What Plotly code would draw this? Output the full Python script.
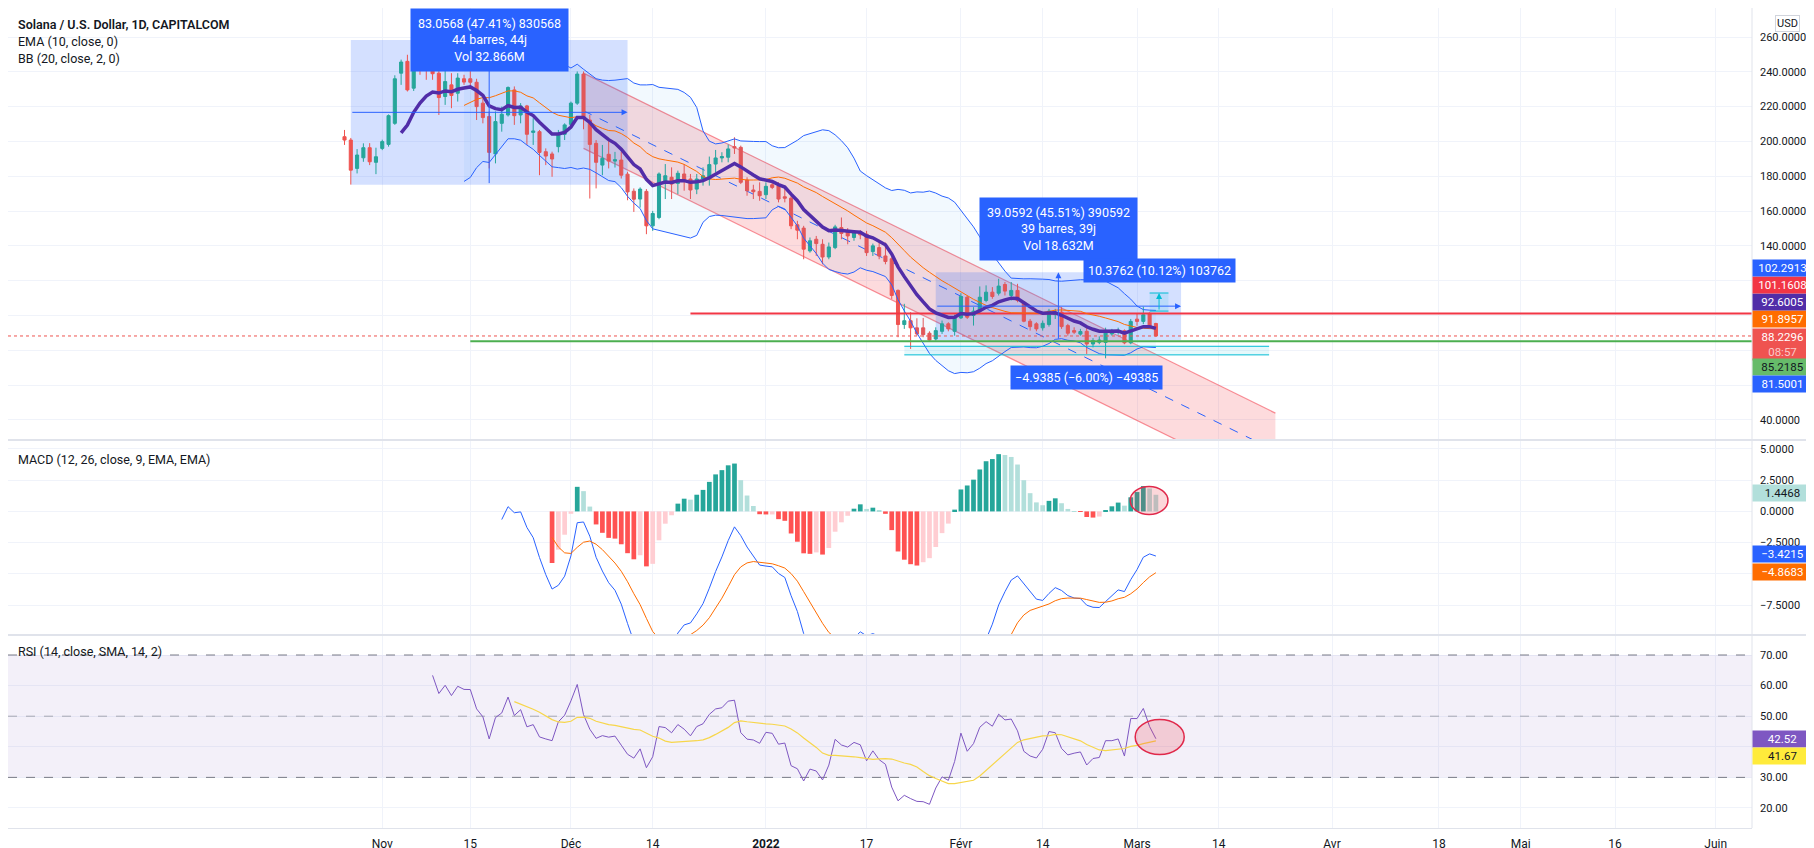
import numpy as np
import pandas as pd
import plotly.graph_objects as go
from plotly.subplots import make_subplots

# ---------------- data ----------------
first_day = "2021-10-26"
opens = [202.7, 200.8, 184.5, 190.6, 196.4, 188.0, 196.0, 198.3, 210.4, 239.2,
         246.0, 230.6, 250.2, 245.6, 244.4, 239.2, 225.8, 232.5, 227.7, 236.0,
         236.0, 234.0, 222.0, 214.3, 192.8, 210.4, 215.2, 229.6, 215.2, 220.4,
         205.2, 205.6, 194.1, 192.8, 197.0, 204.1, 209.8, 222.0, 238.7, 212.3,
         198.9, 186.4, 192.6, 188.7, 189.3, 181.2, 171.4, 166.9, 171.3, 151.5,
         156.3, 177.1, 179.4, 175.9, 181.3, 178.4, 172.6, 178.4, 178.4, 187.0,
         190.5, 190.9, 197.0, 196.6, 177.8, 172.1, 171.3, 169.4, 175.1, 174.6,
         168.2, 167.4, 152.1, 150.2, 137.1, 143.8, 140.9, 133.6, 139.0, 150.5,
         148.2, 144.8, 147.1, 146.7, 136.7, 139.0, 134.2, 132.6, 114.4, 94.8,
         97.0, 92.9, 92.9, 89.8, 86.5, 90.9, 95.2, 90.9, 98.6, 110.5,
         100.0, 102.5, 108.6, 113.4, 112.8, 117.8, 111.5, 114.4, 107.6, 96.7,
         95.2, 92.9, 94.8, 100.5, 101.9, 94.2, 91.3, 89.3, 90.9, 83.6,
         84.6, 84.5, 89.4, 90.3, 91.2, 84.3, 97.9, 96.6, 101.2, 95.4]
highs = [206.6, 202.0, 195.6, 198.9, 199.0, 196.4, 201.0, 215.5, 238.0, 247.0,
         249.8, 252.0, 258.2, 249.8, 248.0, 243.0, 243.0, 239.2, 239.2, 238.3,
         243.0, 236.0, 224.8, 217.2, 217.2, 220.0, 231.6, 231.6, 222.0, 221.0,
         213.3, 206.6, 196.0, 194.1, 206.6, 210.4, 222.9, 240.2, 240.2, 215.2,
         200.8, 198.0, 200.8, 194.0, 194.1, 182.6, 173.0, 173.6, 172.6, 160.1,
         182.2, 187.0, 185.1, 183.2, 187.0, 181.3, 181.3, 185.1, 191.3, 195.1,
         193.8, 198.2, 202.4, 197.6, 179.4, 175.1, 176.5, 176.5, 177.1, 176.5,
         173.6, 168.8, 154.4, 151.5, 144.8, 145.7, 143.8, 141.9, 152.1, 156.3,
         150.2, 149.0, 149.0, 148.6, 141.3, 142.9, 141.9, 133.5, 115.0, 106.7,
         101.9, 98.4, 98.6, 90.9, 93.2, 97.1, 96.1, 100.5, 112.8, 111.5,
         104.8, 116.7, 117.3, 116.3, 121.1, 119.2, 119.2, 118.2, 108.2, 98.0,
         96.1, 97.1, 103.8, 103.8, 104.8, 95.2, 93.2, 92.3, 94.5, 87.0,
         88.0, 93.0, 92.3, 93.0, 92.0, 98.0, 101.2, 105.0, 101.8, 95.8]
lows = [198.0, 175.2, 181.6, 188.3, 186.4, 181.2, 195.0, 197.0, 209.5, 232.5,
        228.7, 229.0, 238.3, 235.4, 235.4, 215.2, 221.0, 219.1, 222.9, 232.5,
        231.5, 212.3, 210.4, 184.5, 187.4, 205.6, 214.3, 209.5, 210.4, 198.0,
        198.0, 180.6, 186.4, 179.7, 193.7, 200.8, 207.5, 221.0, 207.0, 167.2,
        173.0, 180.6, 184.5, 185.0, 178.7, 166.2, 159.5, 162.0, 146.7, 148.6,
        155.3, 166.9, 166.9, 169.7, 171.7, 166.9, 169.7, 174.6, 174.6, 182.2,
        188.0, 188.0, 192.8, 175.5, 168.8, 166.9, 165.9, 166.9, 172.6, 165.0,
        165.0, 149.6, 143.8, 132.3, 136.1, 134.2, 129.4, 132.3, 138.1, 143.8,
        140.9, 142.9, 143.8, 134.2, 134.2, 132.3, 129.4, 109.5, 87.5, 92.3,
        80.8, 88.4, 87.5, 85.6, 85.6, 89.4, 90.9, 88.4, 98.0, 98.0,
        94.2, 101.3, 107.6, 109.6, 111.5, 111.5, 108.6, 107.6, 96.1, 91.3,
        90.9, 91.3, 93.6, 98.0, 92.3, 88.4, 89.4, 88.4, 77.9, 81.7,
        83.5, 75.4, 88.4, 89.0, 83.5, 83.5, 94.1, 95.0, 93.1, 87.8]
closes = [200.8, 183.5, 192.2, 196.4, 188.3, 191.2, 199.9, 214.8, 236.0, 245.6,
          229.6, 249.8, 246.0, 244.0, 238.9, 225.2, 234.4, 226.4, 236.4, 234.1,
          234.0, 220.0, 213.7, 193.7, 211.4, 215.6, 231.0, 214.8, 220.4, 204.1,
          206.0, 193.7, 191.6, 189.9, 204.1, 209.5, 222.0, 238.7, 213.3, 198.3,
          188.0, 190.3, 188.7, 189.5, 180.6, 171.0, 166.8, 172.6, 151.5, 158.6,
          181.3, 180.3, 175.5, 181.7, 177.8, 172.1, 178.4, 180.3, 186.7, 190.5,
          191.3, 195.7, 196.3, 176.5, 171.7, 171.1, 168.8, 174.2, 173.6, 166.9,
          167.4, 151.5, 149.0, 138.1, 142.9, 141.3, 133.6, 139.4, 150.9, 147.1,
          145.7, 147.7, 146.3, 136.1, 140.0, 134.2, 131.0, 111.5, 94.8, 97.0,
          92.9, 89.4, 89.0, 85.9, 91.3, 95.2, 92.3, 99.0, 110.9, 99.0,
          102.5, 110.5, 113.4, 110.9, 116.9, 114.0, 114.4, 108.6, 96.7, 93.6,
          92.3, 95.5, 102.5, 101.9, 93.6, 89.8, 90.4, 90.8, 83.6, 85.6,
          85.9, 91.0, 91.0, 91.5, 84.3, 96.6, 96.6, 100.4, 93.5, 88.2296]

# last values shown in the right-hand scale labels
price_labels = [("102.2913", "#2962FF", "#FFFFFF"), ("101.1608", "#F23645", "#FFFFFF"),
                ("92.6005", "#512DA8", "#FFFFFF"), ("91.8957", "#FF6D00", "#FFFFFF"),
                ("85.2185", "#66BB6A", "#131722"), ("81.5001", "#2962FF", "#FFFFFF")]
current_price = "88.2296"
countdown = "08:57"
macd_labels = [("1.4468", "#B2DFDB", "#131722"), ("−3.4215", "#2962FF", "#FFFFFF"),
               ("−4.8683", "#FF6D00", "#FFFFFF")]
rsi_labels = [("42.52", "#7E57C2", "#FFFFFF"), ("41.67", "#FFEB3B", "#131722")]

# drawings (dates / prices)
box1_dates = ["2021-10-27", "2021-12-10"]
box1_prices = [175.18, 258.24]
box1_text = ["83.0568 (47.41%) 830568", "44 barres, 44j", "Vol 32.866M"]
box2_dates = ["2022-01-28", "2022-03-08"]
box2_prices = [85.83, 124.89]
box2_text = ["39.0592 (45.51%) 390592", "39 barres, 39j", "Vol 18.632M"]
box3_dates = ["2022-03-03", "2022-03-06"]
box3_prices = [102.53, 112.91]
box3_text = "10.3762 (10.12%) 103762"
box4_dates = ["2022-01-23", "2022-03-22"]
box4_prices = [82.31, 77.37]
box4_text = "−4.9385 (−6.00%) −49385"
channel_dates = ["2021-12-03", "2022-03-23"]
channel_upper = [239.25, 43.9]
channel_lower = [196.0, 0.6]
red_level = 101.1608
red_level_start = "2021-12-20"
green_level = 85.2185
green_level_start = "2021-11-15"
macd_circle_dates = ["2022-02-27 22:00", "2022-03-05 22:00"]
macd_circle_vals = [-0.24, 2.0]
rsi_circle_dates = ["2022-02-28 17:00", "2022-03-08 12:00"]
rsi_circle_vals = [37.5, 48.9]

tick_dates = ["2021-11-01", "2021-11-15", "2021-12-01", "2021-12-14", "2022-01-01",
              "2022-01-17", "2022-02-01", "2022-02-14", "2022-03-01", "2022-03-14",
              "2022-04-01", "2022-04-18", "2022-05-01", "2022-05-16", "2022-06-01"]
tick_labels = ["Nov", "15", "Déc", "14", "<b>2022</b>", "17", "Févr", "14", "Mars", "14",
               "Avr", "18", "Mai", "16", "Juin"]
price_ticks = [40, 60, 80, 100, 120, 140, 160, 180, 200, 220, 240, 260]
price_hidden = [60, 80, 100, 120]
macd_ticks = [-7.5, -5.0, -2.5, 0.0, 2.5, 5.0]
macd_hidden = [-5.0]
rsi_ticks = [20, 30, 40, 50, 60, 70]
rsi_hidden = [40]

# ---------------- indicators ----------------
dates = pd.date_range(first_day, periods=len(closes), freq="D")
c = np.asarray(closes, float)


def ema(src, n):
    src = np.asarray(src, float)
    out = np.full(len(src), np.nan)
    idx = np.where(~np.isnan(src))[0]
    s0 = idx[0] + n - 1
    out[s0] = np.mean(src[idx[0]:s0 + 1])
    a = 2.0 / (n + 1)
    for k in range(s0 + 1, len(src)):
        out[k] = a * src[k] + (1 - a) * out[k - 1]
    return out


def rma(src, n, start):
    out = np.full(len(src), np.nan)
    s0 = start + n - 1
    out[s0] = np.mean(src[start:s0 + 1])
    for k in range(s0 + 1, len(src)):
        out[k] = (src[k] + (n - 1) * out[k - 1]) / n
    return out


ema10 = ema(c, 10)
basis = pd.Series(c).rolling(20).mean().values
dev = pd.Series(c).rolling(20).std(ddof=0).values
bb_up = basis + 2 * dev
bb_lo = basis - 2 * dev

macd = ema(c, 12) - ema(c, 26)
signal = ema(macd, 9)
hist = macd - signal
hist_colors = []
for k in range(len(hist)):
    h = hist[k]
    p = hist[k - 1] if k > 0 else np.nan
    if np.isnan(h):
        hist_colors.append("rgba(0,0,0,0)")
    elif h >= 0:
        hist_colors.append("#26A69A" if (not np.isnan(p) and h > p) else "#B2DFDB")
    else:
        hist_colors.append("#FFCDD2" if (not np.isnan(p) and h > p) else "#FF5252")

ch = np.diff(c, prepend=np.nan)
up = np.where(ch > 0, ch, 0.0)
dn = np.where(ch < 0, -ch, 0.0)
ru = rma(up, 14, 1)
rd = rma(dn, 14, 1)
rsi = 100 - 100 / (1 + ru / rd)
rsi_ma = pd.Series(rsi).rolling(14).mean().values

# ---------------- geometry ----------------
FIG_W, FIG_H = 1814, 848
M_R, M_B = 70, 28
pane_px = [432, 195, 193]
price_range = [28.46, 276.66]
macd_range = [-9.90, 5.72]
rsi_range = [13.46, 76.54]
x_range = ["2021-09-02 12:00", "2022-06-06 18:30"]
FONT = "Roboto"
TXT = "#131722"
GRID = "#F0F3FA"
BORDER = "#E0E3EB"


def to_px(v, rng, h):
    return (rng[1] - v) / (rng[1] - rng[0]) * h


fig = make_subplots(rows=3, cols=1, shared_xaxes=True, vertical_spacing=0,
                    row_heights=pane_px)

# Bollinger band fill + lines
fig.add_trace(go.Scatter(x=dates, y=bb_up, mode="lines", line=dict(color="#2962FF", width=1),
                         hoverinfo="skip"), row=1, col=1)
fig.add_trace(go.Scatter(x=dates, y=bb_lo, mode="lines", line=dict(color="#2962FF", width=1),
                         fill="tonexty", fillcolor="rgba(33,150,243,0.06)", hoverinfo="skip"),
              row=1, col=1)

# candles
fig.add_trace(go.Candlestick(x=dates, open=opens, high=highs, low=lows, close=closes,
                             increasing=dict(line=dict(color="#26A69A", width=1), fillcolor="#26A69A"),
                             decreasing=dict(line=dict(color="#EF5350", width=1), fillcolor="#EF5350"),
                             whiskerwidth=0, hoverinfo="skip"), row=1, col=1)

# level lines
end_far = "2022-07-31"
fig.add_trace(go.Scatter(x=[x_range[0], end_far], y=[float(current_price)] * 2, mode="lines",
                         line=dict(color="#EF5350", width=1, dash="dot"), hoverinfo="skip"),
              row=1, col=1)
fig.add_trace(go.Scatter(x=[red_level_start, end_far], y=[red_level] * 2, mode="lines",
                         line=dict(color="#F23645", width=2), hoverinfo="skip"), row=1, col=1)
fig.add_trace(go.Scatter(x=[green_level_start, end_far], y=[green_level] * 2, mode="lines",
                         line=dict(color="#4CAF50", width=2), hoverinfo="skip"), row=1, col=1)

# cyan price ranges
for bd, bp in [(box4_dates, box4_prices), (box3_dates, box3_prices)]:
    for pv in bp:
        fig.add_trace(go.Scatter(x=bd, y=[pv, pv], mode="lines",
                                 line=dict(color="#00BCD4", width=1), hoverinfo="skip"),
                      row=1, col=1)

# indicators on price
fig.add_trace(go.Scatter(x=dates, y=basis, mode="lines", line=dict(color="#FF6D00", width=1),
                         hoverinfo="skip"), row=1, col=1)
fig.add_trace(go.Scatter(x=dates, y=ema10, mode="lines", line=dict(color="#512DA8", width=3.5),
                         hoverinfo="skip"), row=1, col=1)

# MACD
fig.add_trace(go.Bar(x=dates, y=hist, marker=dict(color=hist_colors, line=dict(width=0)),
                     hoverinfo="skip"), row=2, col=1)
fig.add_trace(go.Scatter(x=dates, y=macd, mode="lines", line=dict(color="#2962FF", width=1),
                         hoverinfo="skip"), row=2, col=1)
fig.add_trace(go.Scatter(x=dates, y=signal, mode="lines", line=dict(color="#FF6D00", width=1),
                         hoverinfo="skip"), row=2, col=1)

# RSI
fig.add_trace(go.Scatter(x=dates, y=rsi, mode="lines", line=dict(color="#7E57C2", width=1),
                         hoverinfo="skip"), row=3, col=1)
fig.add_trace(go.Scatter(x=dates, y=rsi_ma, mode="lines", line=dict(color="#F7D64A", width=1.2),
                         hoverinfo="skip"), row=3, col=1)

shapes = []
# regression channel
ud = channel_dates
path = (f"M {ud[0]},{channel_upper[0]} L {ud[1]},{channel_upper[1]} "
        f"L {ud[1]},{channel_lower[1]} L {ud[0]},{channel_lower[0]} Z")
shapes.append(dict(type="path", path=path, xref="x", yref="y", layer="between",
                   fillcolor="rgba(242,54,69,0.18)", line=dict(width=0)))
for a, b in [(channel_upper[0], channel_upper[1]), (channel_lower[0], channel_lower[1])]:
    shapes.append(dict(type="line", x0=ud[0], x1=ud[1], y0=a, y1=b, xref="x", yref="y",
                       layer="between", line=dict(color="rgba(242,54,69,0.55)", width=1.2)))
shapes.append(dict(type="line", x0=ud[0], x1=ud[1],
                   y0=(channel_upper[0] + channel_lower[0]) / 2,
                   y1=(channel_upper[1] + channel_lower[1]) / 2,
                   xref="x", yref="y", layer="between",
                   line=dict(color="#2962FF", width=1, dash="dash")))
# range boxes
for bd, bp, fc in [(box1_dates, box1_prices, "rgba(41,98,255,0.2)"),
                   (box2_dates, box2_prices, "rgba(41,98,255,0.2)"),
                   (box3_dates, box3_prices, "rgba(0,188,212,0.12)"),
                   (box4_dates, box4_prices, "rgba(0,188,212,0.10)")]:
    shapes.append(dict(type="rect", x0=bd[0], x1=bd[1], y0=bp[0], y1=bp[1], xref="x", yref="y",
                       layer="between", fillcolor=fc, line=dict(width=0)))
# RSI band and levels
shapes.append(dict(type="rect", xref="x3", yref="y3", x0=x_range[0], x1=x_range[1], y0=30, y1=70,
                   layer="between", fillcolor="rgba(126,87,194,0.09)", line=dict(width=0)))
for lv, col in [(70, "#787B86"), (50, "rgba(120,123,134,0.6)"), (30, "#787B86")]:
    shapes.append(dict(type="line", xref="x3", yref="y3", x0=x_range[0], x1=x_range[1],
                       y0=lv, y1=lv, layer="between",
                       line=dict(color=col, width=1, dash="dash")))
# circles
shapes.append(dict(type="circle", xref="x2", yref="y2", x0=macd_circle_dates[0],
                   x1=macd_circle_dates[1], y0=macd_circle_vals[0], y1=macd_circle_vals[1],
                   fillcolor="rgba(242,54,69,0.2)", line=dict(color="#E0284A", width=1.5)))
shapes.append(dict(type="circle", xref="x3", yref="y3", x0=rsi_circle_dates[0],
                   x1=rsi_circle_dates[1], y0=rsi_circle_vals[0], y1=rsi_circle_vals[1],
                   fillcolor="rgba(242,54,69,0.2)", line=dict(color="#E0284A", width=1.5)))
# pane separators and borders
plot_h = FIG_H - M_B
for ypx in [pane_px[0], pane_px[0] + pane_px[1]]:
    yp = 1 - ypx / plot_h
    shapes.append(dict(type="line", xref="paper", yref="paper", x0=0, x1=1 + M_R / (FIG_W - M_R),
                       y0=yp, y1=yp, line=dict(color=BORDER, width=2)))
shapes.append(dict(type="line", xref="paper", yref="paper", x0=1, x1=1, y0=0, y1=1,
                   line=dict(color=BORDER, width=1)))

annotations = []


def arrow(x, y, ax, ay, color, xr="x", yr="y"):
    annotations.append(dict(x=x, y=y, ax=ax, ay=ay, xref=xr, yref=yr, axref=xr, ayref=yr,
                            text="", showarrow=True, arrowhead=2, arrowsize=1.2,
                            arrowwidth=1, arrowcolor=color))


def mid_date(d):
    t0, t1 = pd.Timestamp(d[0]), pd.Timestamp(d[1])
    return (t0 + (t1 - t0) / 2).strftime("%Y-%m-%d %H:%M")


for bd, bp in [(box1_dates, box1_prices), (box2_dates, box2_prices)]:
    pm = (bp[0] + bp[1]) / 2
    arrow(bd[1], pm, bd[0], pm, "#2962FF")
    arrow(mid_date(bd), bp[1], mid_date(bd), bp[0], "#2962FF")
arrow(mid_date(box3_dates), box3_prices[1], mid_date(box3_dates), box3_prices[0], "#00BCD4")

lab_font = dict(family=FONT, size=12.5, color="#FFFFFF")
annotations.append(dict(x=mid_date(box1_dates), y=1, xref="x", yref="paper", yanchor="top",
                        text="<br>".join(box1_text), showarrow=False, bgcolor="#2962FF",
                        borderpad=7, font=lab_font, align="center"))
annotations.append(dict(x=mid_date(box2_dates), y=box2_prices[1], xref="x", yref="y",
                        yanchor="bottom", yshift=11, text="<br>".join(box2_text), showarrow=False,
                        bgcolor="#2962FF", borderpad=7, font=lab_font, align="center"))
annotations.append(dict(x=mid_date(box3_dates), y=box3_prices[1], xref="x", yref="y",
                        yanchor="bottom", yshift=10, text=box3_text, showarrow=False,
                        bgcolor="#2962FF", borderpad=4, font=lab_font))
annotations.append(dict(x=mid_date(box4_dates), y=box4_prices[1], xref="x", yref="y",
                        yanchor="top", yshift=-10, text=box4_text, showarrow=False,
                        bgcolor="#2962FF", borderpad=4, font=lab_font))

# legends
leg_font = dict(family=FONT, size=12.5, color=TXT)
annotations.append(dict(x=0, y=1, xref="paper", yref="paper", xanchor="left", yanchor="middle",
                        xshift=8, yshift=-16, text="Solana / U.S. Dollar, 1D, CAPITALCOM",
                        showarrow=False, font=dict(family=FONT, size=12.5, color=TXT, weight=600)))
annotations.append(dict(x=0, y=1, xref="paper", yref="paper", xanchor="left", yanchor="middle",
                        xshift=8, yshift=-33, text="EMA (10, close, 0)", showarrow=False,
                        font=leg_font))
annotations.append(dict(x=0, y=1, xref="paper", yref="paper", xanchor="left", yanchor="middle",
                        xshift=8, yshift=-50, text="BB (20, close, 2, 0)", showarrow=False,
                        font=leg_font))
annotations.append(dict(x=0, y=1, xref="paper", yref="y2 domain", xanchor="left",
                        yanchor="middle", xshift=8, yshift=-19,
                        text="MACD (12, 26, close, 9, EMA, EMA)", showarrow=False, font=leg_font))
annotations.append(dict(x=0, y=1, xref="paper", yref="y3 domain", xanchor="left",
                        yanchor="middle", xshift=8, yshift=-16,
                        text="RSI (14, close, SMA, 14, 2)", showarrow=False, font=leg_font))
annotations.append(dict(x=1, y=1, xref="paper", yref="paper", xanchor="center", yanchor="middle",
                        xshift=35, yshift=-15, text="USD", showarrow=False,
                        font=dict(family=FONT, size=11, color=TXT), bordercolor="#D1D4DC",
                        borderwidth=1, borderpad=1, bgcolor="#FFFFFF"))


def num(s):
    return float(s.replace("−", "-"))


def scale_label(text, bg, fg, yref, value, yshift=0, yanchor="middle"):
    annotations.append(dict(x=1, y=value, xref="paper", yref=yref, xanchor="left",
                            yanchor=yanchor, yshift=yshift, text=text, showarrow=False,
                            bgcolor=bg, font=dict(family=FONT, size=11.5, color=fg),
                            borderpad=1, width=57, align="center"))


LBL_H = 17
cur = num(current_price)
cur_px = to_px(cur, price_range, pane_px[0])
cur_top = cur_px - 8
cur_bot = cur_top + 31
scale_label(f"{current_price}<br><span style='color:rgba(255,255,255,0.7)'>{countdown}</span>",
            "#EF5350", "#FFFFFF", "y", cur, yshift=8, yanchor="top")
above = sorted([l for l in price_labels if num(l[0]) > cur], key=lambda l: num(l[0]))
below = sorted([l for l in price_labels if num(l[0]) <= cur], key=lambda l: -num(l[0]))
edge = cur_top
for t, bg, fg in above:
    tp = to_px(num(t), price_range, pane_px[0])
    cpx = min(tp, edge - LBL_H / 2)
    edge = cpx - LBL_H / 2
    scale_label(t, bg, fg, "y", num(t), yshift=tp - cpx)
edge = cur_bot
for t, bg, fg in below:
    tp = to_px(num(t), price_range, pane_px[0])
    cpx = max(tp, edge + LBL_H / 2)
    edge = cpx + LBL_H / 2
    scale_label(t, bg, fg, "y", num(t), yshift=tp - cpx)

for t, bg, fg in macd_labels:
    scale_label(t, bg, fg, "y2", num(t))
edge = -1e9
for t, bg, fg in sorted(rsi_labels, key=lambda l: -num(l[0])):
    tp = to_px(num(t), rsi_range, pane_px[2])
    cpx = max(tp, edge + LBL_H / 2)
    edge = cpx + LBL_H / 2
    scale_label(t, bg, fg, "y3", num(t), yshift=tp - cpx)


def fmt(v, dec):
    s = f"{abs(v):.{dec}f}"
    return ("−" + s) if v < 0 else s


tick_font = dict(family=FONT, size=11, color=TXT)
fig.update_layout(
    width=FIG_W, height=FIG_H, margin=dict(l=0, r=M_R, t=0, b=M_B),
    paper_bgcolor="#FFFFFF", plot_bgcolor="#FFFFFF", showlegend=False,
    shapes=shapes, annotations=annotations, bargap=0.25,
    font=dict(family=FONT, color=TXT),
)
fig.update_xaxes(range=x_range, type="date", showgrid=True, gridcolor=GRID, gridwidth=1,
                 tickvals=tick_dates, ticktext=tick_labels, zeroline=False,
                 rangeslider_visible=False, ticks="", tickfont=tick_font, automargin=False,
                 showline=False)
fig.update_xaxes(showticklabels=False, row=1, col=1)
fig.update_xaxes(showticklabels=False, row=2, col=1)
fig.update_xaxes(showticklabels=True, ticklabelstandoff=5, showline=True, linecolor=BORDER,
                 tickfont=dict(family=FONT, size=12, color=TXT), row=3, col=1)
fig.update_yaxes(side="right", showgrid=True, gridcolor=GRID, zeroline=False, ticks="",
                 tickfont=tick_font, automargin=False, ticklabelstandoff=7, fixedrange=True)
fig.update_yaxes(range=price_range, tickvals=price_ticks,
                 ticktext=["" if v in price_hidden else fmt(v, 4) for v in price_ticks],
                 row=1, col=1)
fig.update_yaxes(range=macd_range, tickvals=macd_ticks,
                 ticktext=["" if v in macd_hidden else fmt(v, 4) for v in macd_ticks],
                 row=2, col=1)
fig.update_yaxes(range=rsi_range, tickvals=rsi_ticks,
                 ticktext=["" if v in rsi_hidden else fmt(v, 2) for v in rsi_ticks],
                 row=3, col=1)

fig.write_html("out.html")
